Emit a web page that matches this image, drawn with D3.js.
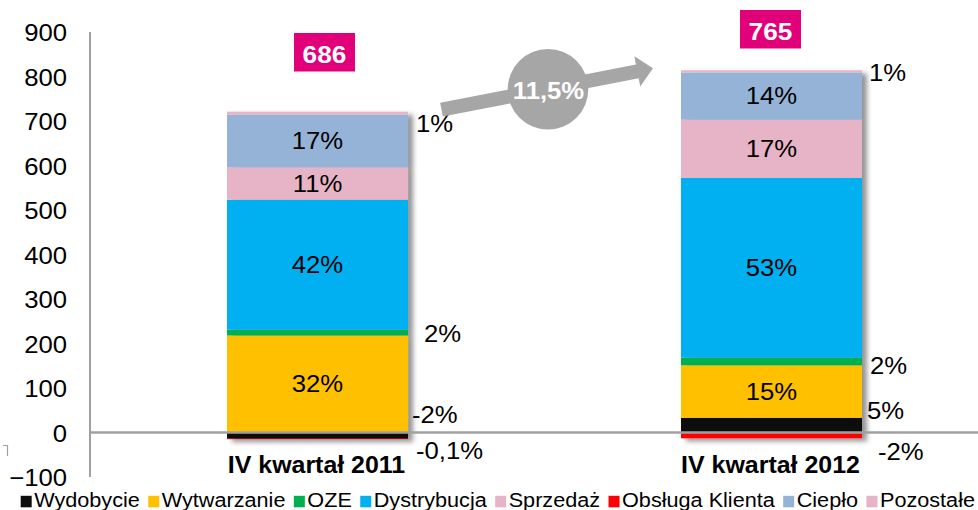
<!DOCTYPE html>
<html><head><meta charset="utf-8">
<script src="https://cdn.jsdelivr.net/npm/d3@7"></script>
<style>
html,body{margin:0;padding:0;background:#fff;}
svg{display:block;font-family:"Liberation Sans",Arial,sans-serif;}
</style></head>
<body>
<svg id="c" width="978" height="510"></svg>
<script>
// ---------- data ----------
const categories = ["IV kwartał 2011", "IV kwartał 2012"];
const seriesNames = ["Wydobycie","Wytwarzanie","OZE","Dystrybucja","Sprzedaż","Obsługa Klienta","Ciepło","Pozostałe"];
const values2011 = [-14, 218, 13, 292, 73, -1, 118, 7];
const values2012 = [33, 118, 17, 404, 131, -13, 106, 5];
const labels2011 = ["-2%","32%","2%","42%","11%","-0,1%","17%","1%"];
const labels2012 = ["5%","15%","2%","53%","17%","-2%","14%","1%"];
const totals = [686, 765];
const growthLabel = "11,5%";
const yTicks = [-100,0,100,200,300,400,500,600,700,800,900];
const seriesColors = ["#0D0D0D","#FFC000","#00B050","#00B0F0","#E6B4C6","#FF0000","#95B3D7","#E6B4C6"];
const insideSeries = ["Wytwarzanie","Dystrybucja","Sprzedaż","Ciepło"];

// ---------- layout ----------
const W = 978, H = 510;
const STRETCH = 1.07;
const axisX = 90;
const outsideNudge = [
  {"Wydobycie":[4,-21],"OZE":[16,1],"Obsługa Klienta":[8,12],"Pozostałe":[8,10.5]},
  {"Wydobycie":[5,-15],"OZE":[8,4],"Obsługa Klienta":[16,16],"Pozostałe":[7,1.5]}
];
const boxLayout = [{dx:7, top:33},{dx:-1, top:10}];
const legendStart = 20.7, legendEnd = 975, legendSq = 11, legendSqGap = 2.5, legendGap = 8.4;

const svg = d3.select("#c");
const defs = svg.append("defs");
const f = defs.append("filter").attr("id","sh").attr("x","-10%").attr("y","-10%").attr("width","130%").attr("height","130%");
f.append("feDropShadow").attr("dx",5).attr("dy",3).attr("stdDeviation",2.5).attr("flood-color","#000").attr("flood-opacity",0.42);

function stretch(sel, k){
  k = k || STRETCH;
  sel.each(function(){
    const w = this.getComputedTextLength();
    this.setAttribute("textLength", w*k);
    this.setAttribute("lengthAdjust","spacingAndGlyphs");
  });
  return sel;
}

const y = d3.scaleLinear().domain([-100,900]).range([477,32]);
const x = d3.scaleBand().domain(categories).range([90.5,998.5]).paddingInner(0.6013).paddingOuter(0.3007);

const rows = categories.map((c,i)=>{
  const vals = i===0 ? values2011 : values2012;
  const r = {cat:c};
  seriesNames.forEach((s,j)=>r[s]=vals[j]);
  return r;
});
const labelRows = [labels2011, labels2012];

const stacked = d3.stack().keys(seriesNames).offset(d3.stackOffsetDiverging)(rows);

// y tick labels
const yAxis = d3.axisLeft(y).tickValues(yTicks).tickSize(0).tickPadding(23);
const gy = svg.append("g").attr("transform",`translate(${axisX},0)`).call(yAxis);
gy.select(".domain").remove();
gy.selectAll("text").attr("font-size",24).attr("fill","#000")
  .attr("font-family","Liberation Sans, Arial, sans-serif").attr("dy","0.36em");
stretch(gy.selectAll("text"));

// left axis line
svg.append("line").attr("x1",axisX).attr("x2",axisX).attr("y1",y(900)).attr("y2",y(-100))
  .attr("stroke","#A0A0A0").attr("stroke-width",2);

// small bracket artifact
svg.append("path").attr("d","M3,445.5H7.5V456").attr("fill","none").attr("stroke","#A0A0A0").attr("stroke-width",1.2);

// bars
const barsG = svg.append("g");
categories.forEach((c,i)=>{
  const g = barsG.append("g").attr("filter","url(#sh)");
  stacked.forEach((s,j)=>{
    const d = s[i];
    const y0 = y(Math.max(d[0],d[1])), y1 = y(Math.min(d[0],d[1]));
    g.append("rect").attr("x",x(c)).attr("width",x.bandwidth())
      .attr("y",y0).attr("height",Math.max(0,y1-y0)).attr("fill",seriesColors[j]);
  });
});

// zero line
svg.append("line").attr("x1",axisX).attr("x2",W).attr("y1",y(0)).attr("y2",y(0))
  .attr("stroke","#A0A0A0").attr("stroke-width",2.5);

// segment labels
categories.forEach((c,i)=>{
  stacked.forEach((s,j)=>{
    const d = s[i];
    const name = seriesNames[j];
    const mid = (y(d[0])+y(d[1]))/2;
    const t = svg.append("text").attr("font-size",24).attr("fill","#000").attr("dy","0.35em").text(labelRows[i][j]);
    if (insideSeries.includes(name)) {
      t.attr("x", x(c)+x.bandwidth()/2).attr("y", mid).attr("text-anchor","middle");
    } else {
      const n = outsideNudge[i][name];
      t.attr("x", x(c)+x.bandwidth()+n[0]).attr("y", mid+n[1]).attr("text-anchor","start");
    }
    stretch(t);
  });
});

// category labels
categories.forEach(c=>{
  const t = svg.append("text").attr("x", x(c)+x.bandwidth()/2-1).attr("y", 472.7)
    .attr("text-anchor","middle").attr("font-size",23.3).attr("font-weight","bold").attr("fill","#000").text(c);
  stretch(t);
});

// total boxes
categories.forEach((c,i)=>{
  const cx = x(c)+x.bandwidth()/2+boxLayout[i].dx;
  svg.append("rect").attr("x",cx-30.5).attr("y",boxLayout[i].top).attr("width",61).attr("height",38.5).attr("fill","#E2007A");
  const t = svg.append("text").attr("x",cx).attr("y",boxLayout[i].top+30.3).attr("text-anchor","middle")
    .attr("font-size",24.5).attr("font-weight","bold").attr("fill","#fff").text(totals[i]);
  stretch(t);
});

// growth arrow
(function(){
  const s = [441.5,109.7], tip = [653,68.3];
  const dx = tip[0]-s[0], dy = tip[1]-s[1], L = Math.hypot(dx,dy);
  const u = [dx/L, dy/L], n = [-u[1], u[0]];
  const hl = 16, sh = 7, hh = 15.5;
  const b = [tip[0]-u[0]*hl, tip[1]-u[1]*hl];
  const p = (pt,k)=>[pt[0]+n[0]*k, pt[1]+n[1]*k];
  const pts = [p(s,-sh), p(b,-sh), p(b,-hh), tip, p(b,hh), p(b,sh), p(s,sh)];
  svg.append("polygon").attr("points", pts.map(q=>q.join(",")).join(" ")).attr("fill","#A6A6A6");
  svg.append("circle").attr("cx",548).attr("cy",89.3).attr("r",40.3).attr("fill","#A6A6A6");
  const t = svg.append("text").attr("x",548.5).attr("y",99).attr("text-anchor","middle")
    .attr("font-size",24).attr("font-weight","bold").attr("fill","#fff").text(growthLabel);
  stretch(t);
})();

// legend (fitted to the reference span)
(function(){
  const ly = 507.3;
  const g = svg.append("g");
  const texts = seriesNames.map(s=>g.append("text").attr("font-size",19.5).attr("fill","#000").text(s));
  const natural = texts.map(t=>t.node().getComputedTextLength());
  const fixed = seriesNames.length*(legendSq+legendSqGap) + (seriesNames.length-1)*legendGap;
  const k = (legendEnd-legendStart-fixed)/d3.sum(natural);
  let lx = legendStart;
  seriesNames.forEach((s,j)=>{
    g.append("rect").attr("x",lx).attr("y",ly-11.5).attr("width",legendSq).attr("height",11.5).attr("fill",seriesColors[j]);
    const w = natural[j]*k;
    texts[j].attr("x",lx+legendSq+legendSqGap).attr("y",ly)
      .attr("textLength",w).attr("lengthAdjust","spacingAndGlyphs");
    lx += legendSq + legendSqGap + w + legendGap;
  });
})();
</script>
</body></html>
